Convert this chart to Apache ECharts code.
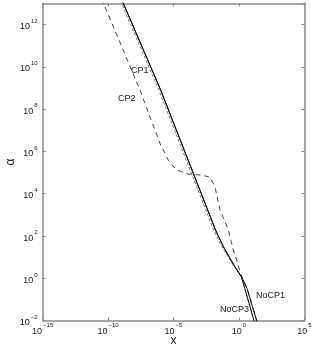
<!DOCTYPE html>
<html>
<head>
<meta charset="utf-8">
<script src="https://cdn.jsdelivr.net/npm/echarts@6/dist/echarts.min.js"></script>
<style>
html,body{margin:0;padding:0;background:#fff;}
#chart{width:315px;height:352px;}
</style>
</head>
<body>
<div id="chart"></div>
<script>
// All values are log10 exponents of x and alpha
var xTicks = [-15, -10, -5, 0, 5];
var yTicks = [-2, 0, 2, 4, 6, 8, 10, 12];

var noCP1_lx = [-9.50, -8.84, -5.98, -1.79, -1.19, -0.30, 0.21, 0.62, 1.36, 1.86];
var noCP1_la = [14.0, 13.0, 8.90, 2.29, 1.50, 0.55, 0.08, -0.47, -2.0, -3.0];

var noCP3_lx = [-9.50, -8.84, -5.98, -1.79, -1.19, -0.32, 0.18, 0.45, 1.15, 1.65];
var noCP3_la = [14.0, 13.0, 8.90, 2.29, 1.50, 0.55, 0.08, -0.47, -2.0, -3.0];

var cp1_lx = [-9.64, -8.98, -6.12, -1.93, -1.30, -0.36, 0.18, 0.45, 1.15, 1.65];
var cp1_la = [14.0, 13.0, 8.90, 2.29, 1.50, 0.55, 0.08, -0.47, -2.0, -3.0];

var cp2_lx = [-11.0, -10.35, -7.56, -6.80, -6.03, -5.40, -4.76, -3.87, -2.84, -2.21, -1.83, -1.44, -0.81, -0.43, -0.17, 0.00, 0.21, 0.62, 1.36, 1.86];
var cp2_la = [14.0, 13.0, 8.90, 7.64, 6.38, 5.59, 5.12, 4.93, 4.88, 4.78, 4.33, 3.23, 2.29, 1.34, 0.87, 0.50, 0.08, -0.47, -2.0, -3.0];

function pairs(xs, ys){ return xs.map(function(v,i){ return [v, ys[i]]; }); }

var FONT = '"Liberation Sans", Arial, Helvetica, sans-serif';
var AXC = '#8a8a8a';
function supFmt(v){
  var s = String(v).replace('-', '\u2212');
  return '{b|10}{s|' + s + '}';
}
var rich = {
  b: {fontSize: 9, fontFamily: FONT, color: '#222', lineHeight: 13, verticalAlign: 'bottom'},
  s: {fontSize: 6, fontFamily: FONT, color: '#222', lineHeight: 13, verticalAlign: 'top', padding: [0,0,0,1]}
};

var chart = echarts.init(document.getElementById('chart'), null, {renderer: 'canvas'});
var lineCommon = {type: 'line', symbol: 'none', smooth: false, clip: true, animation: false};

chart.setOption({
  animation: false,
  backgroundColor: '#fff',
  grid: {left: 42.7, right: 10.7, top: 3.3, bottom: 31.3, containLabel: false, outerBoundsMode: 'none'},
  xAxis: [{
    type: 'value', min: -15, max: 5, interval: 5, position: 'bottom',
    name: 'x', nameLocation: 'middle', nameGap: 14, nameMoveOverlap: false,
    nameTextStyle: {fontSize: 12, fontFamily: FONT, color: '#222'},
    axisLine: {show: true, onZero: false, lineStyle: {color: AXC, width: 1.5}},
    axisTick: {show: true, inside: true, length: 3, lineStyle: {color: AXC, width: 1}},
    axisLabel: {formatter: supFmt, rich: rich, margin: 2, showMinLabel: true, showMaxLabel: true},
    splitLine: {show: false}
  },{
    type: 'value', min: -15, max: 5, interval: 5, position: 'top',
    axisLine: {show: true, onZero: false, lineStyle: {color: AXC, width: 1.5}},
    axisTick: {show: true, inside: true, length: 3, lineStyle: {color: AXC, width: 1}},
    axisLabel: {show: false}, splitLine: {show: false}
  }],
  yAxis: [{
    type: 'value', min: -2, max: 13, interval: 2, position: 'left',
    name: '\u03b1', nameLocation: 'middle', nameGap: 26, nameRotate: 90, nameMoveOverlap: false,
    nameTextStyle: {fontSize: 12, fontFamily: FONT, color: '#222'},
    axisLine: {show: true, onZero: false, lineStyle: {color: AXC, width: 1.5}},
    axisTick: {show: true, inside: true, length: 3, lineStyle: {color: AXC, width: 1}},
    axisLabel: {formatter: function(v){ return v > 12 ? '' : supFmt(v); }, rich: rich, margin: 5, showMaxLabel: false},
    splitLine: {show: false}
  },{
    type: 'value', min: -2, max: 13, interval: 2, position: 'right',
    axisLine: {show: true, onZero: false, lineStyle: {color: AXC, width: 1.5}},
    axisTick: {show: true, inside: true, length: 3, lineStyle: {color: AXC, width: 1}},
    axisLabel: {show: false}, splitLine: {show: false}
  }],
  series: [
    Object.assign({}, lineCommon, {name: 'CP1', data: pairs(cp1_lx, cp1_la),
      lineStyle: {color: '#666', width: 0.9, type: [3, 2]}}),
    Object.assign({}, lineCommon, {name: 'CP2', data: pairs(cp2_lx, cp2_la),
      lineStyle: {color: '#333', width: 0.9, type: [5, 4]}}),
    Object.assign({}, lineCommon, {name: 'NoCP3', data: pairs(noCP3_lx, noCP3_la),
      lineStyle: {color: '#111', width: 1}}),
    Object.assign({}, lineCommon, {name: 'NoCP1', data: pairs(noCP1_lx, noCP1_la),
      lineStyle: {color: '#111', width: 1}})
  ],
  graphic: [
    {type: 'text', left: 131, top: 66, style: {text: 'CP1', fontSize: 9, fontFamily: FONT, fill: '#222'}},
    {type: 'text', left: 118, top: 94, style: {text: 'CP2', fontSize: 9, fontFamily: FONT, fill: '#222'}},
    {type: 'text', left: 256, top: 291, style: {text: 'NoCP1', fontSize: 9, fontFamily: FONT, fill: '#222'}},
    {type: 'text', left: 220, top: 305, style: {text: 'NoCP3', fontSize: 9, fontFamily: FONT, fill: '#222'}}
  ]
});
</script>
</body>
</html>
